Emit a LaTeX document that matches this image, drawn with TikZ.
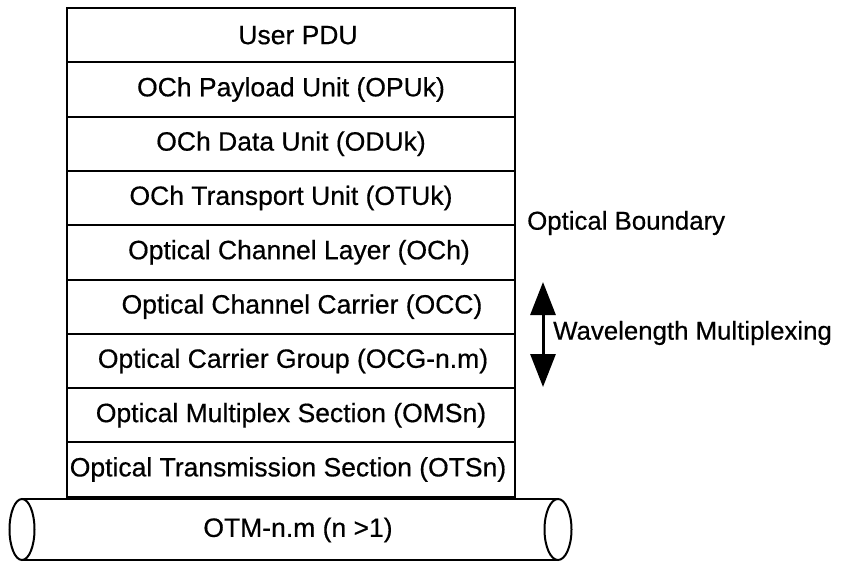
\documentclass[tikz,border=0pt]{standalone}
\usepackage{fontspec}
\setmainfont{Liberation Sans}[FakeBold=0.5]
\usetikzlibrary{arrows.meta}
\begin{document}
\begin{tikzpicture}[x=1pt,y=-1pt,
  txt/.style={font=\fontsize{26.5}{30}\selectfont},
  layer/.style={draw,line width=2pt,minimum width=448pt,minimum height=54.3pt,
    inner sep=0pt,outer sep=0pt,anchor=north,txt},
  note/.style={anchor=west,inner sep=0pt,font=\fontsize{25.8}{30}\selectfont},
  pipe/.style={line width=2pt}]
\useasboundingbox (0,0) rectangle (841,565);
% protocol stack
\node[layer] (l1) at (291,8) {\hspace*{14pt}User PDU};
\node[layer] (l2) at (l1.south) {OCh Payload Unit (OPUk)};
\node[layer] (l3) at (l2.south) {OCh Data Unit (ODUk)};
\node[layer] (l4) at (l3.south) {OCh Transport Unit (OTUk)};
\node[layer] (l5) at (l4.south) {\hspace*{16pt}Optical Channel Layer (OCh)};
\node[layer] (l6) at (l5.south) {\hspace*{22pt}Optical Channel Carrier (OCC)};
\node[layer] (l7) at (l6.south) {\hspace*{4pt}Optical Carrier Group (OCG-n.m)};
\node[layer] (l8) at (l7.south) {Optical Multiplex Section (OMSn)};
\node[layer] (l9) at (l8.south) {\hspace*{-6pt}Optical Transmission Section (OTSn)};
% fibre carrying the stack
\draw[pipe] (22,499) -- (558,499) (22,560) -- (558,560);
\draw[pipe] (22,529.5) ellipse[x radius=12.5,y radius=30.5];
\draw[pipe] (558,529.5) ellipse[x radius=13.5,y radius=30.5];
\node[inner sep=0pt,txt] (otm) at (298,530) {OTM-n.m (n >1)};
% side labels
\node[note] (ob) at (527,223) {Optical Boundary};
\coordinate (wtop) at (543,282);
\coordinate (wbot) at (543,387);
\draw[line width=3pt,{Triangle[width=25pt,length=33pt]}-{Triangle[width=25pt,length=33pt]}] (wtop) -- (wbot);
\node[note] (wm) at (553,333) {Wavelength Multiplexing};
\end{tikzpicture}
\end{document}
